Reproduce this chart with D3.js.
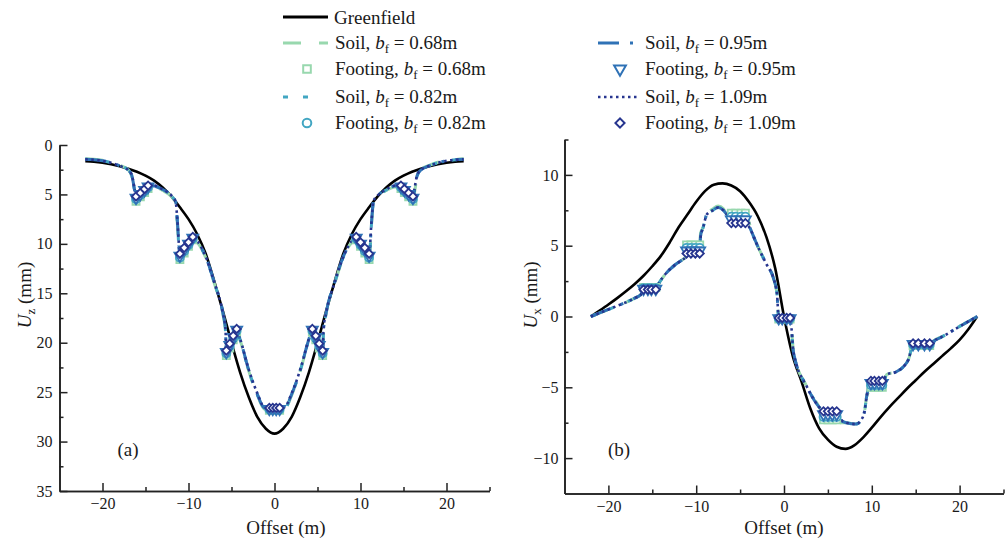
<!DOCTYPE html>
<html>
<head>
<meta charset="utf-8">
<script src="https://cdn.jsdelivr.net/npm/d3@7"></script>
<style>
  body { margin: 0; background: #fff; }
  svg text { font-family: "Times New Roman", "Liberation Serif", Times, "DejaVu Serif", serif; fill: #1a1a1a; }
</style>
</head>
<body>
<script>
// ---- data ----
const gfOffset = [-22,-21,-20,-19,-18,-17,-16,-15,-14,-13,-12,-11,-10,-9,-8,-7,-6,-5,-4,-3,-2,-1,0,
                  1,2,3,4,5,6,7,8,9,10,11,12,13,14,15,16,17,18,19,20,21,22];
const gfUz = [1.65,1.7,1.8,1.95,2.15,2.4,2.7,3.1,3.6,4.3,5.2,6.3,7.5,9.0,11.0,13.8,16.8,20.0,23.0,25.5,27.5,28.7,29.2,
              28.7,27.5,25.5,23.0,20.0,16.8,13.8,11.0,9.0,7.5,6.3,5.2,4.3,3.6,3.1,2.7,2.4,2.15,1.95,1.8,1.7,1.65];
const gfUx = [0,0.42,0.85,1.3,1.78,2.3,2.88,3.55,4.3,5.25,6.3,7.2,8.1,8.85,9.3,9.4,9.25,8.85,8.1,7.1,5.6,3.4,0,
              -2.8,-4.6,-6.5,-7.9,-8.7,-9.2,-9.35,-9.1,-8.55,-7.85,-7.1,-6.4,-5.75,-5.1,-4.5,-3.9,-3.35,-2.8,-2.25,-1.65,-0.9,0];

// soil surface, panel (a)
const soilX_a = [-22,-21,-20,-19,-18,-17,-16.6,-16.3,-16.1,-15.4,-14.7,-14,-13,-12,-11.5,-11.3,-11.0,-10.2,-9.5,-9,-8,-7,-6,-5.7,-5.6,-5.0,-4.4,-4,-3,-2,-1.2,
                 -0.6,0,0.6,
                 1.2,2,3,4,4.4,5.0,5.6,5.7,6,7,8,9,9.5,10.2,11.0,11.3,11.5,12,13,14,14.7,15.4,16.1,16.3,16.6,17,18,19,20,21,22];
const soilUz_068 = [1.4,1.45,1.55,1.75,2.05,2.5,3.15,4.7,5.7,5.05,4.4,4.25,4.6,5.2,5.8,7.9,11.6,10.55,9.6,9.85,11.4,14.0,17.1,18.9,21.3,20.1,18.9,19.75,22.85,25.3,26.7,
                    26.85,26.85,26.85,
                    26.7,25.3,22.85,19.75,18.9,20.1,21.3,18.9,17.1,14.0,11.4,9.85,9.6,10.55,11.6,7.9,5.8,5.2,4.6,4.25,4.4,5.05,5.7,4.7,3.15,2.5,2.05,1.75,1.55,1.45,1.4];
const soilUz_082 = [1.45,1.5,1.6,1.8,2.1,2.55,3.1,4.5,5.5,4.9,4.3,4.2,4.55,5.15,5.75,7.7,11.4,10.4,9.5,9.8,11.35,13.95,17.05,18.8,21.1,19.95,18.8,19.7,22.8,25.25,26.65,
                    26.75,26.75,26.75,
                    26.65,25.25,22.8,19.7,18.8,19.95,21.1,18.8,17.05,13.95,11.35,9.8,9.5,10.4,11.4,7.7,5.75,5.15,4.55,4.2,4.3,4.9,5.5,4.5,3.1,2.55,2.1,1.8,1.6,1.5,1.45];
const soilUz_095 = [1.45,1.5,1.6,1.8,2.1,2.55,3.05,4.4,5.35,4.8,4.2,4.15,4.5,5.1,5.7,7.6,11.2,10.25,9.4,9.75,11.3,13.9,17.0,18.7,20.95,19.8,18.7,19.65,22.75,25.2,26.6,
                    26.7,26.7,26.7,
                    26.6,25.2,22.75,19.65,18.7,19.8,20.95,18.7,17.0,13.9,11.3,9.75,9.4,10.25,11.2,7.6,5.7,5.1,4.5,4.15,4.2,4.8,5.35,4.4,3.05,2.55,2.1,1.8,1.6,1.5,1.45];
const soilUz_109 = [1.45,1.5,1.6,1.8,2.1,2.55,3.0,4.3,5.2,4.7,4.1,4.1,4.5,5.1,5.7,7.5,11.0,10.1,9.3,9.7,11.3,13.9,17.0,18.6,20.8,19.7,18.6,19.6,22.7,25.1,26.5,
                    26.6,26.6,26.6,
                    26.5,25.1,22.7,19.6,18.6,19.7,20.8,18.6,17.0,13.9,11.3,9.7,9.3,10.1,11.0,7.5,5.7,5.1,4.5,4.1,4.1,4.7,5.2,4.3,3.0,2.55,2.1,1.8,1.6,1.5,1.45];

// footing nodes, panel (a)
const footX_a = [-16.1,-15.6,-15.1,-14.7, -11.0,-10.5,-10.0,-9.5, -5.6,-5.2,-4.8,-4.4, -0.6,-0.2,0.2,0.6,
                 4.4,4.8,5.2,5.6, 9.5,10.0,10.5,11.0, 14.7,15.1,15.6,16.1];
const footUz_068 = [5.7,5.25,4.82,4.4, 11.6,10.92,10.26,9.6, 21.3,20.53,19.7,18.9, 26.85,26.85,26.85,26.85,
                    18.9,19.7,20.53,21.3, 9.6,10.26,10.92,11.6, 4.4,4.82,5.25,5.7];
const footUz_082 = [5.5,5.1,4.68,4.3, 11.4,10.75,10.12,9.5, 21.1,20.37,19.55,18.8, 26.75,26.75,26.75,26.75,
                    18.8,19.55,20.37,21.1, 9.5,10.12,10.75,11.4, 4.3,4.68,5.1,5.5];
const footUz_095 = [5.35,4.97,4.57,4.2, 11.2,10.58,10.0,9.4, 20.95,20.23,19.42,18.7, 26.7,26.7,26.7,26.7,
                    18.7,19.42,20.23,20.95, 9.4,10.0,10.58,11.2, 4.2,4.57,4.97,5.35];
const footUz_109 = [5.2,4.85,4.45,4.1, 11.0,10.4,9.85,9.3, 20.8,20.1,19.3,18.6, 26.6,26.6,26.6,26.6,
                    18.6,19.3,20.1,20.8, 9.3,9.85,10.4,11.0, 4.1,4.45,4.85,5.2];

// soil surface, panel (b)
const soilX_b = [-22,-21,-20,-19,-18,-17,-16.3,-16.0,-14.6,-14.2,-13.5,-12.5,-11.6,-11.2,-11.1,-9.6,-9.5,-9.2,-8.8,-8.1,-7.5,-6.9,-6.5,-6.1,-6.0,-4.4,
                 -4.0,-3.7,-3.3,-2.8,-2.0,-1.2,-0.8,-0.6,0.7,1.1,2.6,4.0,4.3,4.5,6.0,6.4,7.1,8.2,8.8,9.2,9.4,9.6,9.9,11.2,
                 11.7,12.8,13.6,14.2,14.7,16.6,17.0,18.1,20,21,22];
const soilUx_068 = [0,0.25,0.5,0.75,1.0,1.3,1.55,2.05,2.05,2.4,3.0,3.6,4.0,4.2,5.05,5.05,5.9,6.3,7.2,7.6,7.8,7.6,7.2,7.25,7.3,7.3,
                    6.7,6.0,5.4,4.7,3.7,2.7,1.6,-0.18,-0.18,-2.6,-4.95,-6.4,-6.8,-7.3,-7.3,-7.5,-7.5,-7.6,-7.3,-6.6,-5.7,-5.35,-5.0,-5.0,
                    -4.1,-3.9,-3.55,-3.0,-2.05,-2.05,-1.75,-1.4,-0.7,-0.35,0];
const soilUx_082 = [0,0.25,0.5,0.75,1.0,1.3,1.55,2.0,2.0,2.4,3.0,3.6,4.0,4.2,4.85,4.85,5.8,6.3,7.2,7.5,7.75,7.5,7.2,7.1,7.05,7.05,
                    6.55,6.0,5.4,4.7,3.7,2.7,1.6,-0.15,-0.15,-2.6,-4.95,-6.4,-6.7,-7.1,-7.1,-7.4,-7.5,-7.6,-7.3,-6.6,-5.7,-5.2,-4.85,-4.85,
                    -4.1,-3.9,-3.55,-3.0,-2.0,-2.0,-1.75,-1.4,-0.7,-0.35,0];
const soilUx_095 = [0,0.25,0.5,0.75,1.0,1.3,1.55,1.95,1.95,2.4,3.0,3.6,4.0,4.2,4.65,4.65,5.7,6.3,7.2,7.5,7.7,7.5,7.2,7.0,6.85,6.85,
                    6.45,6.0,5.4,4.7,3.7,2.7,1.6,-0.12,-0.12,-2.6,-4.95,-6.4,-6.6,-6.9,-6.9,-7.3,-7.5,-7.6,-7.3,-6.6,-5.7,-5.1,-4.7,-4.7,
                    -4.1,-3.9,-3.55,-3.0,-1.95,-1.95,-1.75,-1.4,-0.7,-0.35,0];
const soilUx_109 = [0,0.25,0.5,0.75,1.0,1.3,1.55,1.9,1.9,2.4,3.0,3.6,4.0,4.2,4.45,4.45,5.6,6.3,7.2,7.5,7.7,7.5,7.2,6.9,6.6,6.6,
                    6.35,6.0,5.4,4.7,3.7,2.7,1.6,-0.1,-0.1,-2.6,-4.95,-6.4,-6.6,-6.7,-6.7,-7.2,-7.5,-7.6,-7.3,-6.6,-5.7,-5.0,-4.55,-4.55,
                    -4.1,-3.9,-3.55,-3.0,-1.9,-1.9,-1.75,-1.4,-0.7,-0.35,0];

// footing nodes, panel (b)
const footX_b = [-16.0,-15.5,-15.1,-14.6, -11.1,-10.6,-10.1,-9.6, -6.0,-5.5,-4.9,-4.4, -0.6,-0.2,0.3,0.7,
                 4.5,5.0,5.5,6.0, 9.9,10.3,10.8,11.2, 14.7,15.3,16.0,16.6];
const footUx_068 = [2.05,2.05,2.05,2.05, 5.05,5.05,5.05,5.05, 7.3,7.3,7.3,7.3, -0.18,-0.18,-0.18,-0.18,
                    -7.3,-7.3,-7.3,-7.3, -5.0,-5.0,-5.0,-5.0, -2.05,-2.05,-2.05,-2.05];
const footUx_082 = [2.0,2.0,2.0,2.0, 4.85,4.85,4.85,4.85, 7.05,7.05,7.05,7.05, -0.15,-0.15,-0.15,-0.15,
                    -7.1,-7.1,-7.1,-7.1, -4.85,-4.85,-4.85,-4.85, -2.0,-2.0,-2.0,-2.0];
const footUx_095 = [1.95,1.95,1.95,1.95, 4.65,4.65,4.65,4.65, 6.85,6.85,6.85,6.85, -0.12,-0.12,-0.12,-0.12,
                    -6.9,-6.9,-6.9,-6.9, -4.7,-4.7,-4.7,-4.7, -1.95,-1.95,-1.95,-1.95];
const footUx_109 = [1.9,1.9,1.9,1.9, 4.45,4.45,4.45,4.45, 6.6,6.6,6.6,6.6, -0.1,-0.1,-0.1,-0.1,
                    -6.7,-6.7,-6.7,-6.7, -4.55,-4.55,-4.55,-4.55, -1.9,-1.9,-1.9,-1.9];

const widths = ["0.68", "0.82", "0.95", "1.09"];
const xTicks = [-20, -10, 0, 10, 20];
const xMinor = [-15, -5, 5, 15, 25];
const uzTicks = [0, 5, 10, 15, 20, 25, 30, 35];
const uzMinor = [2.5, 7.5, 12.5, 17.5, 22.5, 27.5, 32.5];
const uxTicks = [-10, -5, 0, 5, 10];
const uxMinor = [-7.5, -2.5, 2.5, 7.5, 12.5];

const FONT = '"Times New Roman", "Liberation Serif", Times, "DejaVu Serif", serif';

// ---- styles per footing width ----
const styles = [
  {color: "#98d8ae", dash: "18,18", width: 3,   sym: d3.symbolSquare,   size: 50, rot: 0},
  {color: "#42a6c2", dash: "5,15",  width: 3,   sym: d3.symbolCircle,   size: 50, rot: 0},
  {color: "#2f72b6", dash: "21,11,3,11", width: 3, sym: d3.symbolTriangle, size: 52, rot: 180},
  {color: "#27358f", dash: "2.5,3.5", width: 2.6, sym: d3.symbolSquare, size: 34, rot: 45}
];

const svg = d3.select("body").append("svg")
    .attr("width", 1005)
    .attr("height", 539)
    .attr("font-family", FONT);

function drawPanel(p) {
  let x = d3.scaleLinear().domain([-25, 25]).range(p.xr);
  let y = d3.scaleLinear().domain(p.yd).range(p.yr);
  let bottom = d3.max(p.yr);
  let g = svg.append("g");

  // axes
  g.append("g").attr("transform", `translate(0,${bottom})`)
      .call(d3.axisBottom(x).tickValues(xTicks).tickSize(-8).tickSizeOuter(0).tickPadding(7));
  g.append("g").attr("transform", `translate(0,${bottom})`)
      .call(d3.axisBottom(x).tickValues(xMinor).tickSize(-4).tickSizeOuter(0).tickFormat(""));
  g.append("g").attr("transform", `translate(${p.xr[0]},0)`)
      .call(d3.axisLeft(y).tickValues(p.ticks).tickSize(-8).tickSizeOuter(0).tickPadding(p.ypad));
  g.append("g").attr("transform", `translate(${p.xr[0]},0)`)
      .call(d3.axisLeft(y).tickValues(p.minor).tickSize(-4).tickSizeOuter(0).tickFormat(""));

  g.selectAll("g").attr("font-family", FONT);
  g.selectAll(".domain").attr("stroke", "#222").attr("stroke-width", 1.6);
  g.selectAll(".tick line").attr("stroke", "#222").attr("stroke-width", 1.5);
  g.selectAll(".tick text").attr("font-size", 16).attr("fill", "#1a1a1a");

  // greenfield
  let line = d3.line().x(d => x(d[0])).y(d => y(d[1])).curve(d3.curveMonotoneX);
  g.append("path")
      .datum(d3.zip(gfOffset, p.gf))
      .attr("d", line)
      .attr("fill", "none")
      .attr("stroke", "#000")
      .attr("stroke-width", 2.6);

  // soil surfaces
  for (let i = 0; i < styles.length; i++) {
    g.append("path")
        .datum(d3.zip(p.soilX, p.soil[i]))
        .attr("d", line)
        .attr("fill", "none")
        .attr("stroke", styles[i].color)
        .attr("stroke-width", styles[i].width)
        .attr("stroke-dasharray", styles[i].dash);
  }

  // footings
  for (let i = 0; i < styles.length; i++) {
    let s = styles[i];
    g.append("g").selectAll("path")
        .data(d3.zip(p.footX, p.foot[i]))
        .join("path")
        .attr("d", d3.symbol().type(s.sym).size(s.size))
        .attr("transform", d => `translate(${x(d[0])},${y(d[1])}) rotate(${s.rot})`)
        .attr("fill", "#fff")
        .attr("stroke", s.color)
        .attr("stroke-width", 1.8);
  }

  // labels
  g.append("text")
      .attr("x", p.xlabX).attr("y", 534)
      .attr("text-anchor", "middle")
      .attr("font-size", 19)
      .text("Offset (m)");

  let yl = g.append("text")
      .attr("transform", `translate(${p.ylabX},295) rotate(-90)`)
      .attr("text-anchor", "middle")
      .attr("font-size", 19);
  yl.append("tspan").attr("font-style", "italic").text("U");
  yl.append("tspan").attr("font-size", 13).attr("dy", 4).text(p.sub);
  yl.append("tspan").attr("dy", -4).text(" (mm)");

  g.append("text")
      .attr("x", p.tagX).attr("y", 456)
      .attr("text-anchor", "middle")
      .attr("font-size", 19)
      .text(p.tag);
}

drawPanel({
  xr: [59.5, 489.5], yd: [0, 35], yr: [145, 491],
  ticks: uzTicks, minor: uzMinor, ypad: 7,
  gf: gfUz, soilX: soilX_a, soil: [soilUz_068, soilUz_082, soilUz_095, soilUz_109],
  footX: footX_a, foot: [footUz_068, footUz_082, footUz_095, footUz_109],
  xlabX: 286, ylabX: 31, sub: "z", tag: "(a)", tagX: 128
});

drawPanel({
  xr: [564.5, 1003.5], yd: [-12.5, 12.5], yr: [493.5, 139.5],
  ticks: uxTicks, minor: uxMinor, ypad: 6,
  gf: gfUx, soilX: soilX_b, soil: [soilUx_068, soilUx_082, soilUx_095, soilUx_109],
  footX: footX_b, foot: [footUx_068, footUx_082, footUx_095, footUx_109],
  xlabX: 784, ylabX: 537, sub: "x", tag: "(b)", tagX: 619
});

// ---- legend ----
let leg = svg.append("g");

function legendLabel(tx, ty, word, bf) {
  let t = leg.append("text").attr("x", tx).attr("y", ty).attr("font-size", 19);
  if (bf == null) { t.text(word); return; }
  t.append("tspan").text(word + ", ");
  t.append("tspan").attr("font-style", "italic").text("b");
  t.append("tspan").attr("font-size", 13).attr("dy", 4).text("f");
  t.append("tspan").attr("dy", -4).text(" = " + bf + "m");
}

leg.append("line").attr("x1", 283).attr("x2", 328).attr("y1", 17).attr("y2", 17)
    .attr("stroke", "#000").attr("stroke-width", 3);
legendLabel(334, 24, "Greenfield");

let rows = [
  {col: 0, y: 43, yF: 69},
  {col: 0, y: 97, yF: 123},
  {col: 1, y: 43, yF: 69},
  {col: 1, y: 97, yF: 123}
];
let cols = [{x1: 283, x2: 328, xm: 307, tx: 335}, {x1: 598, x2: 638, xm: 620, tx: 645}];

for (let i = 0; i < styles.length; i++) {
  let s = styles[i], c = cols[rows[i].col];
  leg.append("line")
      .attr("x1", c.x1).attr("x2", i == 1 ? 312 : c.x2)
      .attr("y1", rows[i].y).attr("y2", rows[i].y)
      .attr("stroke", s.color).attr("stroke-width", s.width)
      .attr("stroke-dasharray", s.dash);
  legendLabel(c.tx, rows[i].y + 6, "Soil", widths[i]);
  leg.append("path")
      .attr("d", d3.symbol().type(s.sym).size(s.size + 8))
      .attr("transform", `translate(${c.xm},${rows[i].yF}) rotate(${s.rot})`)
      .attr("fill", "#fff").attr("stroke", s.color).attr("stroke-width", 2);
  legendLabel(c.tx, rows[i].yF + 6, "Footing", widths[i]);
}
</script>
</body>
</html>
